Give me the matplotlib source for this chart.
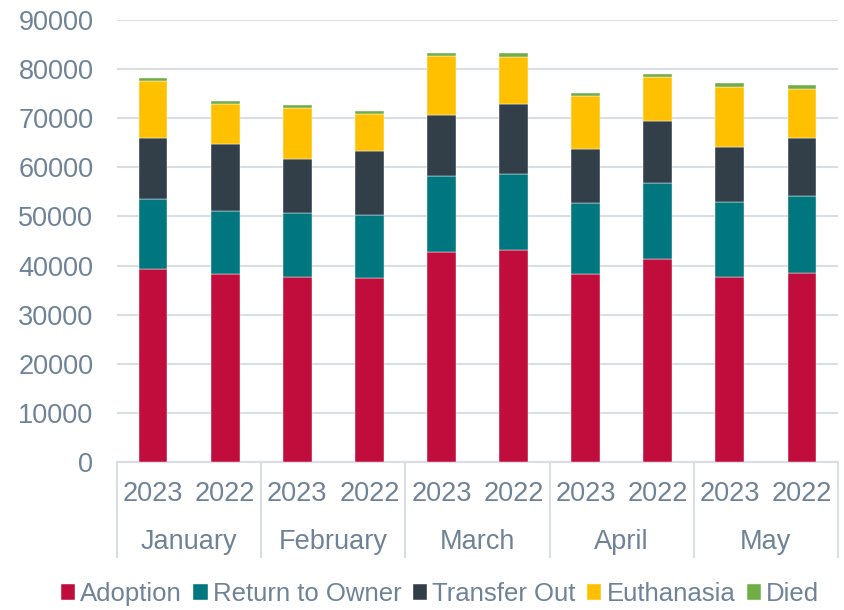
import matplotlib

matplotlib.use("Agg")
import matplotlib.pyplot as plt  # noqa: E402
import matplotlib.transforms as mtransforms  # noqa: E402
import numpy as np  # noqa: E402

plt.rcParams["font.family"] = ["Liberation Sans", "DejaVu Sans"]

MONTHS = ["January", "February", "March", "April", "May"]
YEARS = ["2023", "2022"]

# values per bar, order: Jan 2023, Jan 2022, Feb 2023, ... May 2022
adoption = [39300, 38200, 37600, 37500, 42800, 43100, 38200, 41300, 37600, 38400]
return_to_owner = [14300, 13000, 13100, 12800, 15400, 15600, 14600, 15600, 15400, 15700]
transfer_out = [12300, 13500, 11000, 13000, 12400, 14200, 11000, 12600, 11100, 11800]
euthanasia = [11600, 8100, 10300, 7500, 12100, 9600, 10700, 8900, 12300, 10100]
died = [700, 700, 650, 600, 600, 700, 700, 700, 700, 700]

SERIES = [
    ("Adoption", adoption, "#C00D3C"),
    ("Return to Owner", return_to_owner, "#00767F"),
    ("Transfer Out", transfer_out, "#323E48"),
    ("Euthanasia", euthanasia, "#FFC000"),
    ("Died", died, "#70AD47"),
]

TEXT = "#6E8397"
GRID = "#D9DEE3"
FS = 19.5

fig = plt.figure(figsize=(8.44, 6.10), dpi=100)
ax = fig.add_axes([117 / 844, (610 - 462) / 610, (838 - 117) / 844, (462 - 20) / 610])

x = np.arange(len(adoption))
bottom = np.zeros(len(x))
for name, vals, color in SERIES:
    vals = np.asarray(vals, dtype=float)
    ax.bar(x, vals, width=0.4, bottom=bottom, color=color, label=name,
           edgecolor="white", linewidth=0.3, zorder=3)
    bottom += vals

ax.set_xlim(-0.5, len(x) - 0.5)
ax.set_ylim(0, 90000)
ax.set_yticks(np.arange(0, 90001, 10000))
ax.yaxis.grid(True, color=GRID, linewidth=1.5, zorder=0)
ax.tick_params(axis="y", length=0, pad=17, labelsize=FS, labelcolor=TEXT)
for s in ("top", "right", "left"):
    ax.spines[s].set_visible(False)
ax.spines["bottom"].set_color(GRID)
ax.spines["bottom"].set_linewidth(1.5)

ax.set_xticks(x)
ax.set_xticklabels([YEARS[i % 2] for i in x])
ax.tick_params(axis="x", length=0, pad=14, labelsize=FS, labelcolor=TEXT)

trans = mtransforms.blended_transform_factory(ax.transData, ax.transAxes)
sep_h = (557 - 462) / (462 - 20)
for b in np.arange(-0.5, len(x), 2):
    ax.plot([b, b], [0, -sep_h], transform=trans, color=GRID, linewidth=1.5,
            clip_on=False, zorder=1)

for i, m in enumerate(MONTHS):
    ax.annotate(m, xy=(2 * i + 0.5, 0), xycoords=trans, xytext=(0, -80 * 0.72),
                textcoords="offset points", ha="center", va="center",
                fontsize=FS, color=TEXT)

fig.legend(loc="center", bbox_to_anchor=(440 / 844, 1 - 594 / 610), ncol=5,
           frameon=False, fontsize=18.5, labelcolor=TEXT, handlelength=0.55,
           handleheight=0.55, handletextpad=0.2, columnspacing=0.45,
           borderpad=0, borderaxespad=0)

fig.savefig("out.png", dpi=100)
